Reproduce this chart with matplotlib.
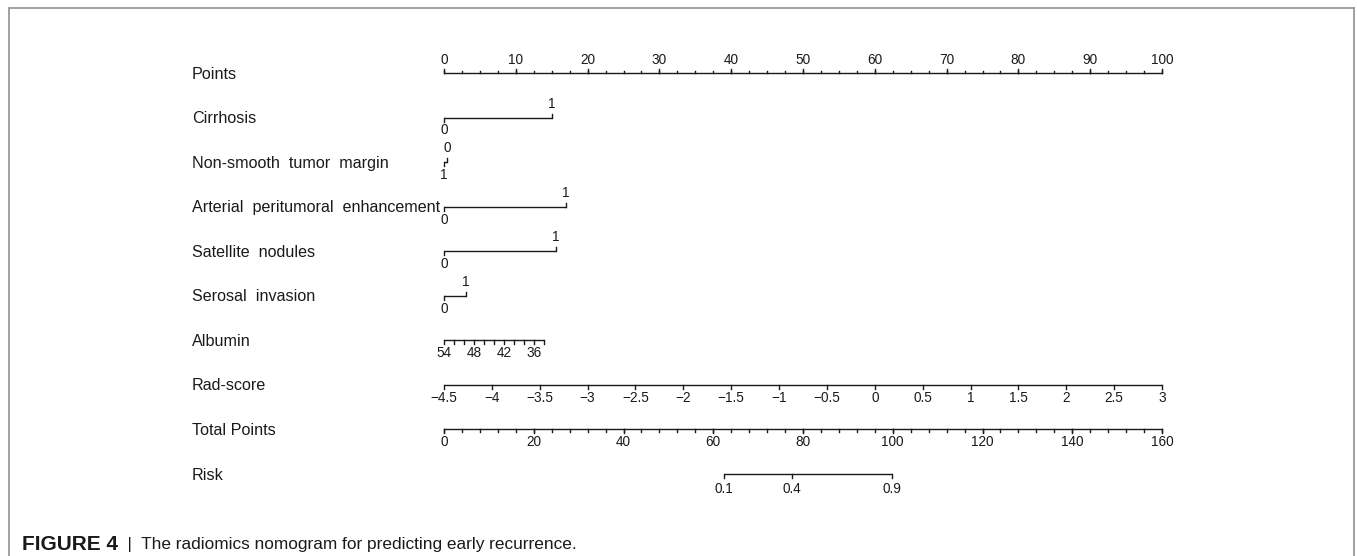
import matplotlib

matplotlib.use("Agg")
import matplotlib.pyplot as plt  # noqa: E402
import numpy as np  # noqa: E402
from matplotlib.lines import Line2D  # noqa: E402

# ---- data -----------------------------------------------------------------
row_labels = ["Points", "Cirrhosis", "Non-smooth  tumor  margin",
              "Arterial  peritumoral  enhancement", "Satellite  nodules",
              "Serosal  invasion", "Albumin", "Rad-score", "Total Points", "Risk"]

# binary predictors: points at level 0 and level 1
binary_names = ["Cirrhosis", "Non-smooth", "Arterial", "Satellite", "Serosal"]
binary_pts0 = [0.0, 0.45, 0.0, 0.0, 0.0]
binary_pts1 = [15.0, 0.0, 17.0, 15.6, 3.0]

albumin_ticks = [54, 52, 50, 48, 46, 44, 42, 40, 38, 36, 34]
albumin_labels = [54, 48, 42, 36]
albumin_pts_per_unit = 0.696          # points per g/L below 54

rad_ticks = [-4.5, -4, -3.5, -3, -2.5, -2, -1.5, -1, -0.5, 0, 0.5, 1, 1.5, 2, 2.5, 3]
rad_min, rad_max = -4.5, 3.0

total_ticks = list(range(0, 161, 20))
total_minor = list(range(0, 161, 4))
total_max = 160

risk_labels = ["0.1", "0.4", "0.9"]
risk_total = [62.4, 77.5, 99.8]       # total points at each risk

points_ticks = list(range(0, 101, 10))
points_minor = list(np.arange(0, 100.1, 2.5))

# ---- layout ---------------------------------------------------------------
W, H = 1357, 556
INK = "#1a1a1a"
LW = 1.0
LAB_FS = 11.6
TICK_FS = 9.8
OFF = 0.29        # label offset from axis line, in row units
TL = 0.09         # major tick length
TS = 0.05         # minor tick length

fig = plt.figure(figsize=(W / 100, H / 100), dpi=100)
plt.rcParams["font.family"] = ["Liberation Sans", "DejaVu Sans"]

top_px, bot_px = 73, 474
ax = fig.add_axes([444 / W, 1 - bot_px / H, 718 / W, (bot_px - top_px) / H])
ax.set_xlim(0, 100)
ax.set_ylim(len(row_labels) - 1, 0)
ax.axis("off")


def hline(y, x0, x1):
    ax.plot([x0, x1], [y, y], color=INK, lw=LW, solid_capstyle="butt", clip_on=False)


def tick(x, y, length):
    # positive length -> downward (labels below), negative -> upward
    ax.plot([x, x], [y, y + length], color=INK, lw=LW, clip_on=False)


def lab(x, y, s):
    ax.text(x, y, s, ha="center", va="center", fontsize=TICK_FS, color=INK, clip_on=False)


# row names
for i, name in enumerate(row_labels):
    ax.text(192 / W, 1 - (top_px + 1 + i * (bot_px - top_px) / 9) / H, name,
            transform=fig.transFigure, ha="left", va="center",
            fontsize=LAB_FS, color=INK)

# Points (labels above)
hline(0, 0, 100)
for p in points_minor:
    tick(p, 0, -TS)
for p in points_ticks:
    tick(p, 0, -TL)
    lab(p, -OFF, str(p))

# binary predictors
for k in range(len(binary_names)):
    y = k + 1
    p0, p1 = binary_pts0[k], binary_pts1[k]
    hline(y, min(p0, p1), max(p0, p1))
    hi_pt, hi_lab = (p1, "1") if p1 >= p0 else (p0, "0")
    lo_pt, lo_lab = (p0, "0") if p1 >= p0 else (p1, "1")
    tick(hi_pt, y, -TL)
    lab(hi_pt, y - OFF - 0.02, hi_lab)
    tick(lo_pt, y, TL)
    lab(lo_pt, y + OFF, lo_lab)

# Albumin
y = 6
alb_pts = [(54 - a) * albumin_pts_per_unit for a in albumin_ticks]
hline(y, min(alb_pts), max(alb_pts))
for a, p in zip(albumin_ticks, alb_pts):
    tick(p, y, TL)
    if a in albumin_labels:
        lab(p, y + OFF, str(a))

# Rad-score
y = 7
hline(y, 0, 100)
for r in rad_ticks:
    p = (r - rad_min) / (rad_max - rad_min) * 100
    tick(p, y, TL)
    lab(p, y + OFF, f"{r:g}".replace("-", "\u2212"))

# Total Points
y = 8
hline(y, 0, 100)
for t in total_minor:
    tick(t / total_max * 100, y, TS)
for t in total_ticks:
    p = t / total_max * 100
    tick(p, y, TL)
    lab(p, y + OFF, str(t))

# Risk
y = 9
rp = [t / total_max * 100 for t in risk_total]
hline(y, min(rp), max(rp))
for s, p in zip(risk_labels, rp):
    tick(p, y, TL)
    lab(p, y + OFF + 0.04, s)

# frame around the panel (open at the bottom)
fc = "#9a9a9a"
for xs, ys in (([9, 9], [0, 8]), ([9, 1354], [8, 8]), ([1354, 1354], [8, 0])):
    fig.add_artist(Line2D([x / W for x in xs], [1 - v / H if v else 0 for v in ys],
                          color=fc, lw=1.3))

# caption
cap_fam = ["Liberation Sans Narrow", "Liberation Sans", "DejaVu Sans"]
t1 = fig.text(22 / W, 1 - 544 / H, "FIGURE 4", fontsize=15, fontweight="bold",
              family=cap_fam, color=INK, va="center", ha="left")
fig.canvas.draw()
bb = t1.get_window_extent()
fig.text(bb.x1 / W, 1 - 544 / H, "  |  The radiomics nomogram for predicting early recurrence.",
         fontsize=12.4, family=cap_fam, color=INK, va="center", ha="left")

fig.savefig("out.png", dpi=100)
